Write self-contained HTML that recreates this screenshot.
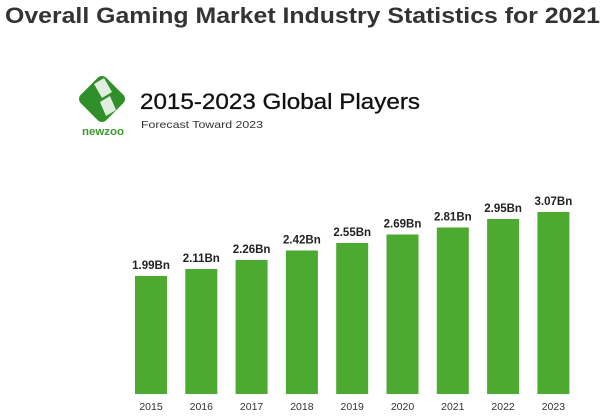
<!DOCTYPE html>
<html><head><meta charset="utf-8"><style>html,body{margin:0;padding:0;background:#fff;}svg{display:block}</style></head>
<body>
<svg width="613" height="419" xmlns="http://www.w3.org/2000/svg" font-family="Liberation Sans, sans-serif">
<text x="5" y="23" font-size="22" font-weight="bold" fill="#333" textLength="595" lengthAdjust="spacingAndGlyphs">Overall Gaming Market Industry Statistics for 2021</text>
<g transform="translate(102,99) rotate(45)">
<rect x="-18" y="-18" width="36" height="36" rx="6" fill="#2f8f28"/>
</g>
<path d="M94 84 L104 78 L112 92 L102 98 Z" fill="#fff" opacity="0.85"/>
<path d="M100 102 L110 96 L116 110 L106 116 Z" fill="#fff" opacity="0.85"/>
<text x="82" y="135" font-size="11" font-weight="bold" fill="#3a9a2a" textLength="42" lengthAdjust="spacingAndGlyphs">newzoo</text>
<text x="140" y="109" font-size="22" fill="#111" stroke="#111" stroke-width="0.3" textLength="280" lengthAdjust="spacingAndGlyphs">2015-2023 Global Players</text>
<text x="141" y="128" font-size="10.5" fill="#333" textLength="122" lengthAdjust="spacingAndGlyphs">Forecast Toward 2023</text>
<g fill="#4daa31">
<rect x="135" y="276" width="32" height="118"/>
<rect x="185.3" y="269" width="32" height="125"/>
<rect x="235.6" y="260" width="32" height="134"/>
<rect x="285.9" y="250.5" width="32" height="143.5"/>
<rect x="336.2" y="243" width="32" height="151"/>
<rect x="386.5" y="234.5" width="32" height="159.5"/>
<rect x="436.8" y="227.5" width="32" height="166.5"/>
<rect x="487.1" y="219" width="32" height="175"/>
<rect x="537.4" y="212" width="32" height="182"/>
</g>
<g font-size="11.5" font-weight="bold" fill="#222" text-anchor="middle">
<text x="151" y="269">1.99Bn</text>
<text x="201.3" y="262">2.11Bn</text>
<text x="251.6" y="253">2.26Bn</text>
<text x="301.9" y="243.5">2.42Bn</text>
<text x="352.2" y="236">2.55Bn</text>
<text x="402.5" y="227.5">2.69Bn</text>
<text x="452.8" y="220.5">2.81Bn</text>
<text x="503.1" y="212">2.95Bn</text>
<text x="553.4" y="205">3.07Bn</text>
</g>
<g font-size="10.5" fill="#333" text-anchor="middle">
<text x="151" y="410">2015</text>
<text x="201.3" y="410">2016</text>
<text x="251.6" y="410">2017</text>
<text x="301.9" y="410">2018</text>
<text x="352.2" y="410">2019</text>
<text x="402.5" y="410">2020</text>
<text x="452.8" y="410">2021</text>
<text x="503.1" y="410">2022</text>
<text x="553.4" y="410">2023</text>
</g>
</svg>
</body></html>
